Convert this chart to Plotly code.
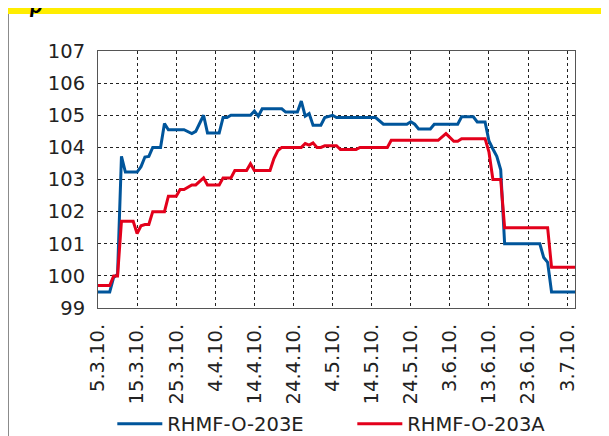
import plotly.graph_objects as go

# ===== data =====
E_DATES = ['2010-03-05', '2010-03-08', '2010-03-09', '2010-03-10', '2010-03-11', '2010-03-12',
           '2010-03-15', '2010-03-16', '2010-03-17', '2010-03-18', '2010-03-19', '2010-03-21',
           '2010-03-22', '2010-03-23', '2010-03-27', '2010-03-29', '2010-03-30', '2010-04-01',
           '2010-04-02', '2010-04-05', '2010-04-06', '2010-04-07', '2010-04-08', '2010-04-13',
           '2010-04-14', '2010-04-15', '2010-04-16', '2010-04-21', '2010-04-22', '2010-04-25',
           '2010-04-26', '2010-04-27', '2010-04-28', '2010-04-29', '2010-05-01', '2010-05-02',
           '2010-05-04', '2010-05-05', '2010-05-15', '2010-05-17', '2010-05-23', '2010-05-24',
           '2010-05-25', '2010-05-26', '2010-05-29', '2010-05-30', '2010-06-05', '2010-06-06',
           '2010-06-09', '2010-06-10', '2010-06-12', '2010-06-13', '2010-06-14', '2010-06-15',
           '2010-06-16', '2010-06-17', '2010-06-26', '2010-06-27', '2010-06-28', '2010-06-29',
           '2010-07-05']
E_VALUES = [99.5, 99.5, 99.95, 100.05, 103.72, 103.23,
            103.23, 103.4, 103.7, 103.72, 104.0, 104.0,
            104.74, 104.55, 104.55, 104.43, 104.5, 105.0,
            104.45, 104.45, 104.93, 104.93, 105.0, 105.0,
            105.13, 104.97, 105.2, 105.2, 105.1, 105.1,
            105.44, 104.97, 105.05, 104.69, 104.69, 104.93,
            105.0, 104.93, 104.93, 104.72, 104.72, 104.8,
            104.72, 104.57, 104.57, 104.72, 104.72, 104.95,
            104.95, 104.79, 104.79, 104.2, 103.95, 103.72,
            103.3, 101.0, 101.0, 100.57, 100.42, 99.5,
            99.5]

A_DATES = ['2010-03-05', '2010-03-08', '2010-03-09', '2010-03-10', '2010-03-11', '2010-03-14',
           '2010-03-15', '2010-03-16', '2010-03-17', '2010-03-18', '2010-03-19', '2010-03-22',
           '2010-03-23', '2010-03-25', '2010-03-26', '2010-03-27', '2010-03-29', '2010-03-30',
           '2010-04-01', '2010-04-02', '2010-04-05', '2010-04-06', '2010-04-08', '2010-04-09',
           '2010-04-12', '2010-04-13', '2010-04-14', '2010-04-18', '2010-04-19', '2010-04-20',
           '2010-04-21', '2010-04-26', '2010-04-27', '2010-04-28', '2010-04-29', '2010-04-30',
           '2010-05-01', '2010-05-02', '2010-05-05', '2010-05-06', '2010-05-10', '2010-05-11',
           '2010-05-18', '2010-05-19', '2010-05-31', '2010-06-02', '2010-06-04', '2010-06-05',
           '2010-06-06', '2010-06-12', '2010-06-13', '2010-06-14', '2010-06-16', '2010-06-17',
           '2010-06-28', '2010-06-29', '2010-07-05']
A_VALUES = [99.7, 99.7, 100.0, 100.0, 101.7, 101.7,
            101.32, 101.56, 101.6, 101.6, 102.0, 102.0,
            102.48, 102.48, 102.69, 102.69, 102.83, 102.83,
            103.05, 102.83, 102.83, 103.05, 103.05, 103.28,
            103.28, 103.49, 103.28, 103.28, 103.65, 103.9,
            104.0, 104.0, 104.12, 104.07, 104.14, 104.0,
            104.0, 104.05, 104.05, 103.93, 103.93, 104.0,
            104.0, 104.22, 104.22, 104.43, 104.19, 104.19,
            104.27, 104.27, 103.85, 103.0, 103.0, 101.5,
            101.5, 100.27, 100.27]

SERIES_NAMES = ['RHMF-O-203E', 'RHMF-O-203A']
Y_TICKS = [99, 100, 101, 102, 103, 104, 105, 106, 107]

BLUE = '#00559b'
RED = '#e3001b'
FONT = 'DejaVu Sans'

fig = go.Figure()

fig.add_trace(go.Scatter(x=E_DATES, y=E_VALUES, mode='lines', name=SERIES_NAMES[0],
                         line=dict(color=BLUE, width=3)))
fig.add_trace(go.Scatter(x=A_DATES, y=A_VALUES, mode='lines', name=SERIES_NAMES[1],
                         line=dict(color=RED, width=3)))

# yellow band, grey frame line and the clipped heading
fig.add_shape(type='rect', xref='paper', yref='paper', x0=-0.25, x1=1.1, y0=1.144, y1=1.3,
              fillcolor='#ffed00', line=dict(width=0), layer='below')
fig.add_shape(type='line', xref='paper', yref='paper', x0=-0.1887, x1=-0.1887, y0=1.144, y1=-0.55,
              line=dict(color='#8a8a8a', width=2))
fig.add_annotation(text='<b><i>p</i></b>', xref='paper', yref='paper', x=-0.13, y=1.121,
                   xanchor='center', yanchor='bottom', showarrow=False,
                   font=dict(family='Lato', size=24, color='#000000'))

# page body has an 8px margin, so the figure is 8px smaller and shifted
fig.update_layout(
    width=601, height=428,
    margin=dict(l=90, r=34, t=43, b=128, autoexpand=False),
    paper_bgcolor='white', plot_bgcolor='white',
    font=dict(family=FONT, size=19.5, color='#222222'),
    showlegend=True,
    legend=dict(orientation='h', xanchor='left', x=0.03, yanchor='middle', y=-0.452,
                font=dict(size=19.5), itemwidth=45, entrywidth=180, entrywidthmode='pixels',
                bgcolor='rgba(0,0,0,0)'),
)

fig.update_xaxes(
    type='date', range=['2010-03-05', '2010-07-05'],
    tick0='2010-03-05', dtick=10 * 24 * 3600 * 1000, tickformat='%-d.%-m.%y.',
    tickangle=-90, ticks='', ticklabelstandoff=7,
    showgrid=True, gridcolor='#222222', griddash='dot', gridwidth=1,
    showline=True, linecolor='#555555', linewidth=1, mirror=True, zeroline=False,
)
fig.update_yaxes(
    range=[99, 107], tickvals=Y_TICKS, ticks='', ticklabelstandoff=8,
    showgrid=True, gridcolor='#222222', griddash='dot', gridwidth=1,
    showline=True, linecolor='#555555', linewidth=1, mirror=True, zeroline=False,
)

fig.write_html("out.html")
